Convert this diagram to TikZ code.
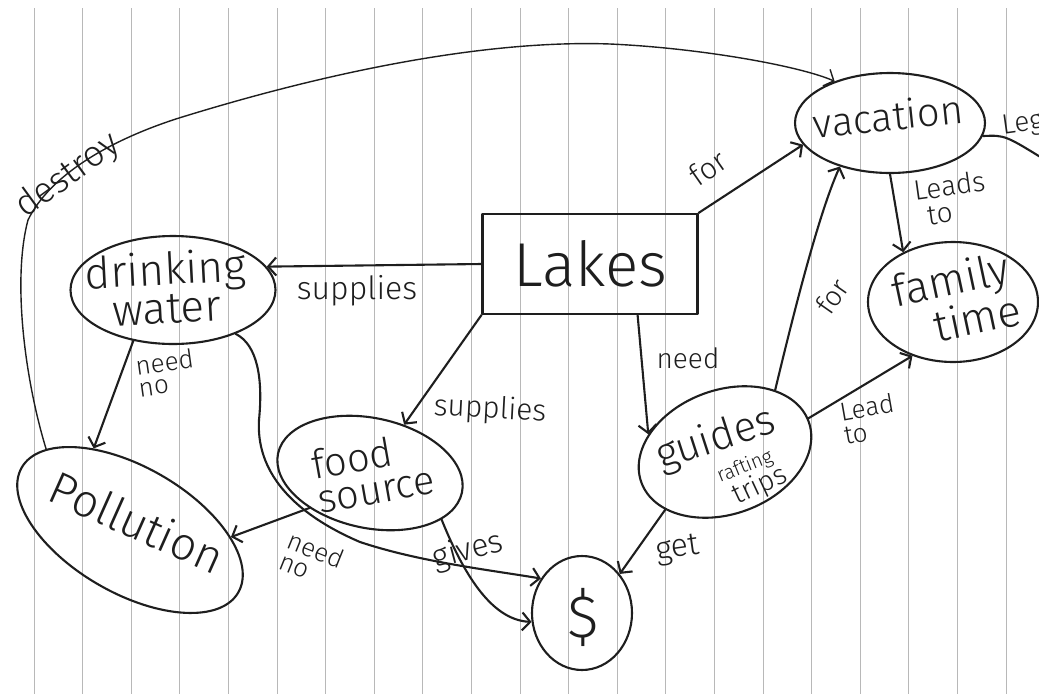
\documentclass[tikz,border=0pt]{standalone}
\usepackage{fontspec}
\setmainfont{Fira Sans Light}
\usetikzlibrary{arrows.meta,shapes.geometric}
\definecolor{ink}{HTML}{1E1E1E}
\definecolor{paperline}{HTML}{B8B8B8}
\newcommand\penfont[2]{\fontsize{#1}{#2}\selectfont}
\begin{document}
\begin{tikzpicture}[x=1pt,y=-1pt,
  pen/.style={draw=ink, line width=2.1pt, line cap=round, line join=round},
  concept/.style={pen, ellipse, inner sep=0pt},
  boxed/.style={pen, rectangle, inner sep=0pt},
  word/.style={text=ink, inner sep=0pt, align=center},
  lbl/.style={text=ink, inner sep=0pt, align=left},
  link/.style={pen, -{Straight Barb[length=8pt,width=18pt]}},
]
\useasboundingbox (0,0) rectangle (1039,694);
\fill[white] (0,0) rectangle (1039,694);
% ruled paper
\foreach \k in {0,...,20}
  \draw[paperline, line width=0.8pt] ({34+48.6*\k},8) -- ({34+48.6*\k},694);

% concepts
\node[boxed, minimum width=215pt, minimum height=100pt, text=ink,
      font=\penfont{62}{62}] (lakes) at (590,264) {Lakes};

\node[concept, minimum width=190pt, minimum height=100pt] (vac) at (890,123) {};
\node[word, rotate=6, font=\penfont{40}{40}] (vacT) at (888,116) {vacation};

\node[concept, minimum width=170pt, minimum height=120pt] (fam) at (953,302) {};
\node[word, rotate=12, font=\penfont{44}{36}] (famT) at (955,300) {family\\\hspace*{36pt}time};

\node[concept, minimum width=205pt, minimum height=108pt] (dw) at (173,290) {};
\node[word, rotate=3, font=\penfont{44}{32}] (dwT) at (166,288) {drinking\\water};

\node[concept, rotate=-12, minimum width=188pt, minimum height=110pt] (fs) at (370,473) {};
\node[lbl, rotate=10, font=\penfont{40}{34}] (fsT) at (373,472) {food\\source};

\node[concept, rotate=20, minimum width=178pt, minimum height=124pt] (gd) at (725,452) {};
\node[word, rotate=18, font=\penfont{42}{42}] (gdT) at (716,440) {guides};
\node[word, rotate=22, font=\penfont{20}{20}] (gdR) at (745,467) {rafting};
\node[word, rotate=25, font=\penfont{28}{28}] (gdS) at (760,486) {trips};

\node[concept, rotate=-30, minimum width=250pt, minimum height=126pt] (pol) at (130,530) {};
\node[word, rotate=-24, font=\penfont{46}{46}] (polT) at (137,522) {Pollution};

\node[concept, minimum width=100pt, minimum height=114pt] (dol) at (582,613) {};
\node[word, font=\penfont{60}{60}] (dolT) at (583,617) {\$};

% connectors
\draw[link] (lakes.west) -- (dw.14);
\draw[link] (lakes.south west) -- (fs);
\draw[link] (lakes.north east) -- (vac.194);
\draw[link] (lakes.-47) -- (gd.147);
\draw[link] (gd.31) .. controls (792,320) and (818,215) .. (vac.221);
\draw[link] (vac.south) -- (fam.135);
\coordinate (offR) at (1050,163);
\draw[pen] (vac.-8) .. controls (1005,135) .. (offR);
\draw[link] (gd.2) -- (fam.233);
\draw[link] (gd.204) -- (dol.46);
\draw[link] (dw.232) -- (pol.144);
\draw[link] (fs.222) -- (pol.26);
\draw[link] (dw.-35) .. controls (258,345) and (263,380) .. (259,420)
  .. controls (256,470) and (290,512) .. (360,542)
  .. controls (420,562) and (490,570) .. (dol.140);
\draw[link] (fs.-21) .. controls (462,570) and (490,620) .. (dol.190);
\draw[link, line width=1.4pt] (pol.166) .. controls (25,380) and (12,280) .. (28,220)
  .. controls (50,175) and (110,140) .. (179,118)
  .. controls (350,65) and (500,40) .. (610,44)
  .. controls (700,48) and (800,66) .. (vac.143);

% link words
\node[lbl, font=\penfont{32}{32}] (l1) at (357,291) {supplies};
\node[lbl, rotate=-3, font=\penfont{30}{30}] (l2) at (490,410) {supplies};
\node[lbl, rotate=35, font=\penfont{30}{30}] (l3) at (708,168) {for};
\node[lbl, font=\penfont{28}{28}] (l4) at (688,358) {need};
\node[lbl, rotate=55, font=\penfont{28}{28}] (l5) at (832,296) {for};
\node[lbl, rotate=8, anchor=north west, font=\penfont{28}{26}] (l6) at (912,180) {Leads\\\hspace*{10pt}to};
\node[lbl, rotate=10, anchor=north west, font=\penfont{26}{24}] (l7) at (838,402) {Lead\\to};
\node[lbl, rotate=8, font=\penfont{32}{32}] (l8) at (678,550) {get};
\node[lbl, rotate=8, anchor=north west, font=\penfont{26}{22}] (l9) at (134,356) {need\\no};
\node[lbl, rotate=-22, font=\penfont{26}{22}] (l10) at (312,560) {need\\no};
\node[lbl, rotate=15, font=\penfont{32}{32}] (l11) at (468,551) {gives};
\node[lbl, rotate=36, font=\penfont{36}{36}] (l12) at (68,176) {destroy};
\node[lbl, rotate=8, anchor=west, font=\penfont{28}{28}] (l13) at (1002,128) {Leg};
\end{tikzpicture}
\end{document}
